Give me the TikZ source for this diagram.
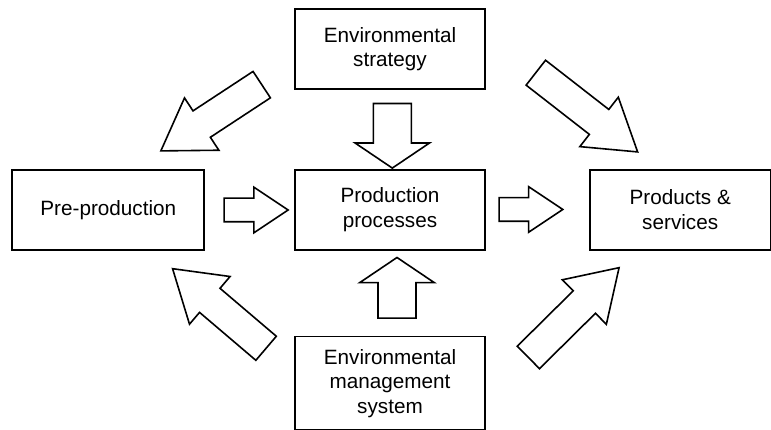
\documentclass[tikz,border=0pt]{standalone}
\usepackage{fontspec}
\setmainfont{Liberation Sans}
\usetikzlibrary{positioning,shapes.arrows}

\begin{document}
\begin{tikzpicture}[
x=1pt, y=1pt,
box/.style={draw, line width=1.7pt, inner sep=0pt, minimum width=190pt, minimum height=80pt, align=center, font=\fontsize{20.7}{24.5}\selectfont},
fat/.style={single arrow, draw, line width=1.6pt, inner xsep=0pt, anchor=tail},
hfat/.style={fat, inner ysep=11pt, single arrow head extend=11pt, single arrow tip angle=67.4},
vfat/.style={fat, inner ysep=18.2pt, single arrow head extend=18.2pt, single arrow tip angle=112},
dfat/.style={fat, inner ysep=15pt, single arrow head extend=15.5pt, single arrow tip angle=65.3}
]
\useasboundingbox (0,0) rectangle (771,430);

% boxes
\node[box] (prod) at (390,220.3) {Production\\processes};
\node[box, above=79pt of prod] (strat) {Environmental\\strategy};
\node[box, below=85pt of prod, minimum height=93.8pt] (ems) {Environmental\\management\\system};
\node[box, left=89pt of prod, minimum width=192pt] (pre) {Pre-production};
\node[box, right=103pt of prod, minimum width=181pt] (prods) {Products \&\\services};

% block arrows
\node[hfat, minimum height=64pt] (pre2prod) at (223.3,220) {};
\node[hfat, minimum height=63.7pt] (prod2prods) at (498.3,220.5) {};
\node[vfat, rotate=-90, minimum height=64.6pt] (strat2prod) at (392.3,327.3) {};
\node[vfat, rotate=90, minimum height=60.7pt] (ems2prod) at (397,111) {};
\node[dfat, rotate=213.3, minimum height=120.7pt] (strat2pre) at (262.4,345.8) {};
\node[dfat, rotate=-37.9, minimum height=129pt] (strat2prods) at (535.2,357.8) {};
\node[dfat, rotate=139.6, minimum height=122.8pt] (ems2pre) at (266.7,81.2) {};
\node[dfat, rotate=44.7, minimum height=127.6pt] (ems2prods) at (527.8,72) {};
\end{tikzpicture}
\end{document}
